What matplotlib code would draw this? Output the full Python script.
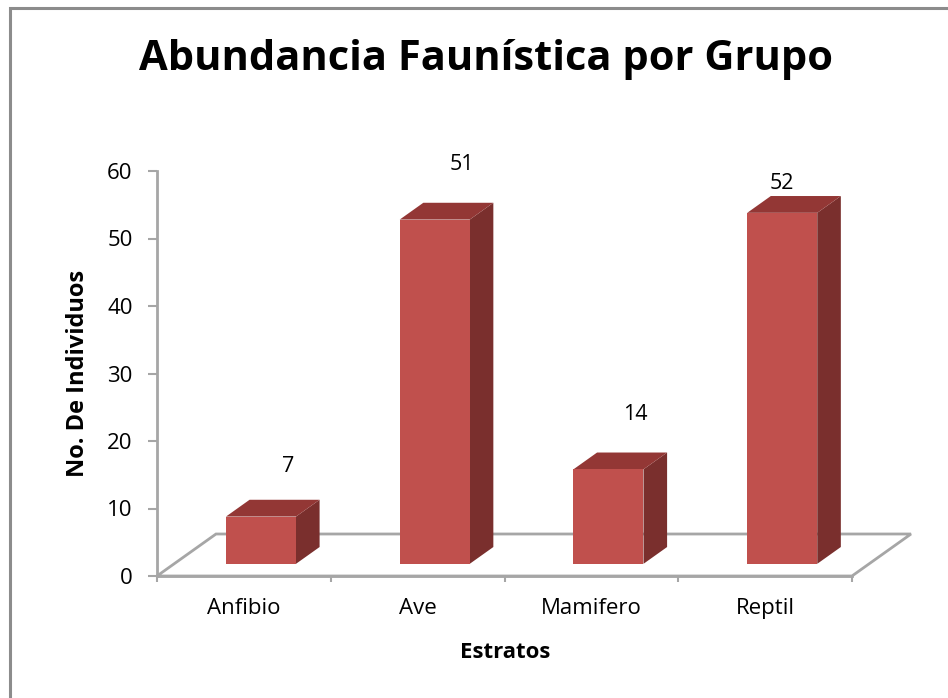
import matplotlib

matplotlib.use("Agg")
import matplotlib.pyplot as plt
from matplotlib.patches import Polygon, Rectangle

plt.rcParams["font.family"] = ["Open Sans", "DejaVu Sans"]

GRUPOS = ["Anfibio", "Ave", "Mamifero", "Reptil"]
INDIVIDUOS = [7, 51, 14, 52]
Y_TICKS = [0, 10, 20, 30, 40, 50, 60]

# desplazamiento de las etiquetas de valor (px) respecto al frente de la barra
LABEL_DX = [27, 27, 27, 0]
LABEL_DY = [50, 55, 55, 29]

FRONT = "#C0504D"
TOP = "#933735"
SIDE = "#7A2F2D"
GRID = "#A6A6A6"

W, H = 948, 698
fig = plt.figure(figsize=(W / 100, H / 100), dpi=100)

# marco del gráfico (solo visibles borde superior e izquierdo)
fig.patches.append(Rectangle((10 / W, -0.1), 1.2, (H - 8) / H + 0.1,
                             transform=fig.transFigure, fill=False,
                             edgecolor="#8C8C8C", linewidth=2.2))

x0, x1, y0, y1 = 157, 852, 576, 171
ax = fig.add_axes([x0 / W, (H - y0) / H, (x1 - x0) / W, (y0 - y1) / H])
ax.set_xlim(0, len(GRUPOS))
ax.set_ylim(0, 60)

px_x = (x1 - x0) / len(GRUPOS)
px_y = (y0 - y1) / 60.0

# profundidad del piso en px -> unidades de datos
DEPTH_X, DEPTH_Y = 59 / px_x, 42 / px_y
F0, F1 = 0.29, 0.69          # frente y fondo de las barras (fracción de profundidad)
BAR_W = 0.403

# piso
floor = [(0, 0), (len(GRUPOS), 0),
         (len(GRUPOS) + DEPTH_X, DEPTH_Y), (DEPTH_X, DEPTH_Y)]
ax.add_patch(Polygon(floor, closed=True, facecolor="white", edgecolor=GRID,
                     linewidth=2, clip_on=False, zorder=1))

for i, (g, v) in enumerate(zip(GRUPOS, INDIVIDUOS)):
    xl = i + 0.5 - BAR_W / 2 + F0 * DEPTH_X
    xr = xl + BAR_W
    yb = F0 * DEPTH_Y
    yt = yb + v
    dx = (F1 - F0) * DEPTH_X
    dy = (F1 - F0) * DEPTH_Y
    ax.add_patch(Polygon([(xr, yb), (xr + dx, yb + dy), (xr + dx, yt + dy), (xr, yt)],
                         facecolor=SIDE, edgecolor="none", clip_on=False, zorder=3))
    ax.add_patch(Polygon([(xl, yt), (xr, yt), (xr + dx, yt + dy), (xl + dx, yt + dy)],
                         facecolor=TOP, edgecolor="none", clip_on=False, zorder=3))
    ax.add_patch(Rectangle((xl, yb), BAR_W, v, facecolor=FRONT, edgecolor="none",
                           clip_on=False, zorder=4))
    ax.annotate(str(v), (i + 0.5 + F0 * DEPTH_X, yt), xytext=(LABEL_DX[i], LABEL_DY[i]),
                textcoords="offset pixels", ha="center", va="center",
                fontsize=15.5, color="black", annotation_clip=False)

for side in ["top", "right"]:
    ax.spines[side].set_visible(False)
for side in ["left", "bottom"]:
    ax.spines[side].set_color(GRID)
    ax.spines[side].set_linewidth(2)
    ax.spines[side].set_zorder(2)
ax.patch.set_visible(False)

ax.set_yticks(Y_TICKS)
ax.tick_params(axis="y", length=6.5, width=1.5, color=GRID, pad=11, labelsize=16)
ax.set_xticks(range(len(GRUPOS) + 1))
ax.set_xticklabels([])
ax.set_xticks([i + 0.5 for i in range(len(GRUPOS))], minor=True)
ax.set_xticklabels(GRUPOS, minor=True)
ax.tick_params(axis="x", which="major", length=4.5, width=1.5, color=GRID)
ax.tick_params(axis="x", which="minor", length=0, pad=16, labelsize=16)

fig.text(486 / W, 1 - 60 / H, "Abundancia Faunística por Grupo", ha="center", va="center",
         fontsize=30, fontweight="bold")
fig.text(78 / W, 1 - 373 / H, "No. De Individuos", rotation=90, ha="center", va="center",
         fontsize=17, fontweight="bold")
fig.text(505 / W, 1 - 652 / H, "Estratos", ha="center", va="center",
         fontsize=16, fontweight="bold")

fig.savefig("out.png", dpi=100, facecolor="white")
